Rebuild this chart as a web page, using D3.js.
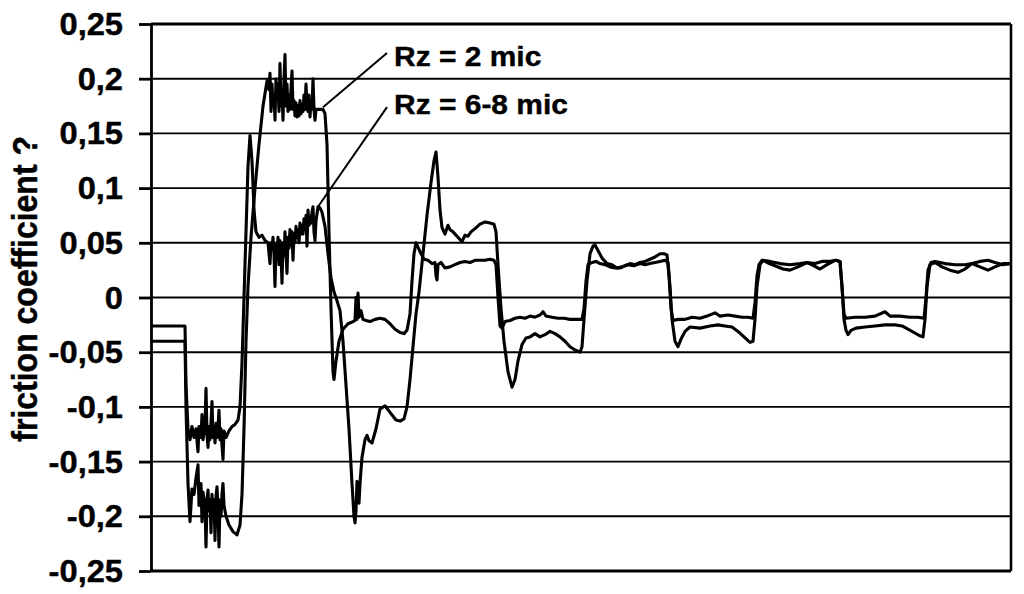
<!DOCTYPE html>
<html>
<head>
<meta charset="utf-8">
<script src="https://cdn.jsdelivr.net/npm/d3@7"></script>
<style>
  html, body { margin: 0; padding: 0; background: #fff; }
  svg { display: block; }
  text { font-family: "Liberation Sans", Arial, sans-serif; font-weight: bold; fill: #000; }
</style>
</head>
<body>
<div id="chart"></div>
<script>
// y ticks (friction coefficient)
var yTickValues = [-0.25, -0.2, -0.15, -0.1, -0.05, 0, 0.05, 0.1, 0.15, 0.2, 0.25];
var yTickLabels = ["-0,25", "-0,2", "-0,15", "-0,1", "-0,05", "0", "0,05", "0,1", "0,15", "0,2", "0,25"];
var yTitle = "friction coefficient ?";

// time runs 0..860 (arbitrary units, no labels on the x axis)
var timeRange = [0, 860];

// Rz = 2 mic : [time, friction]
var rz2 = [
  [0,-0.040],[34,-0.040],[35,-0.100],[37,-0.170],[39,-0.205],[41,-0.175],[43,-0.180],[45,-0.165],[47,-0.153],[48,-0.190],
  [50,-0.170],[51,-0.205],[52,-0.178],[54,-0.190],[55,-0.228],[56,-0.185],[57,-0.176],[58,-0.195],[59,-0.185],[60,-0.215],
  [61,-0.180],[62,-0.200],[63,-0.185],[64,-0.222],[65,-0.182],[66,-0.173],[67,-0.195],[68,-0.228],[69,-0.185],[70,-0.200],
  [71,-0.180],[72,-0.170],[73,-0.190],[75,-0.200],[78,-0.208],[82,-0.214],[86,-0.217],[89,-0.208],[91,-0.180],[93,-0.120],
  [95,-0.040],[97,0.010],[100,0.055],[104,0.100],[108,0.140],[112,0.175],[116,0.198],[118,0.190],[119,0.205],[120,0.170],
  [121,0.195],[122,0.175],[123,0.185],[124,0.162],[125,0.200],[126,0.180],[127,0.195],[128,0.170],[129,0.214],[130,0.175],
  [131,0.190],[132,0.162],[133,0.200],[134,0.222],[135,0.175],[136,0.195],[137,0.170],[138,0.185],[139,0.172],[140,0.190],
  [141,0.207],[142,0.172],[143,0.180],[144,0.166],[145,0.178],[146,0.165],[147,0.175],[148,0.166],[149,0.180],[150,0.168],
  [151,0.176],[152,0.170],[153,0.185],[154,0.172],[155,0.195],[156,0.175],[157,0.170],[158,0.185],[159,0.165],[160,0.180],
  [161,0.172],[162,0.200],[163,0.172],[164,0.162],[165,0.172],[168,0.172],[172,0.172],[174,0.168],[176,0.140],[178,0.060],
  [180,-0.010],[182,-0.068],[183,-0.075],[185,-0.058],[188,-0.040],[192,-0.029],[197,-0.024],[202,-0.022],[204,-0.021],[205,0.000],
  [206,-0.020],[207,0.004],[208,-0.018],[210,-0.012],[212,-0.020],[215,-0.021],[219,-0.022],[224,-0.020],[229,-0.019],[234,-0.020],
  [239,-0.024],[244,-0.029],[249,-0.032],[253,-0.033],[256,-0.030],[259,-0.015],[261,0.015],[263,0.040],[265,0.050],[267,0.046],
  [270,0.040],[273,0.035],[277,0.034],[281,0.031],[284,0.032],[285,0.020],[286,0.016],[287,0.030],[290,0.032],[294,0.027],
  [299,0.028],[304,0.030],[309,0.032],[314,0.033],[319,0.032],[324,0.034],[329,0.034],[334,0.034],[339,0.035],[343,0.034],
  [345,0.030],[347,0.000],[349,-0.026],[351,-0.028],[354,-0.022],[359,-0.021],[364,-0.019],[369,-0.018],[374,-0.019],[379,-0.017],
  [384,-0.018],[389,-0.016],[392,-0.013],[395,-0.017],[401,-0.018],[407,-0.019],[413,-0.019],[419,-0.020],[425,-0.020],[431,-0.020],
  [433,-0.010],[435,0.015],[437,0.030],[441,0.032],[445,0.033],[449,0.031],[454,0.030],[459,0.028],[464,0.027],[469,0.027],
  [474,0.029],[479,0.031],[484,0.030],[489,0.032],[494,0.033],[499,0.035],[504,0.037],[509,0.040],[513,0.040],[516,0.039],
  [518,0.020],[520,-0.010],[522,-0.021],[527,-0.020],[534,-0.020],[541,-0.018],[549,-0.019],[556,-0.017],[564,-0.014],[569,-0.017],
  [577,-0.016],[584,-0.017],[591,-0.018],[597,-0.018],[602,-0.019],[604,-0.005],[606,0.020],[608,0.030],[611,0.034],[619,0.033],
  [629,0.031],[639,0.030],[649,0.031],[656,0.032],[664,0.031],[671,0.033],[679,0.033],[685,0.034],[689,0.033],[691,0.010],
  [693,-0.015],[695,-0.019],[704,-0.018],[714,-0.018],[724,-0.017],[734,-0.013],[739,-0.017],[749,-0.017],[759,-0.018],[767,-0.018],
  [773,-0.019],[775,0.000],[777,0.025],[780,0.032],[784,0.033],[794,0.031],[804,0.030],[814,0.030],[821,0.031],[829,0.033],
  [837,0.034],[844,0.032],[852,0.030],[860,0.031]
];

// Rz = 6-8 mic : [time, friction]
var rz68 = [
  [0,-0.026],[34,-0.026],[35,-0.080],[37,-0.120],[39,-0.130],[41,-0.118],[43,-0.128],[45,-0.120],[47,-0.141],[48,-0.118],
  [50,-0.128],[51,-0.107],[52,-0.130],[54,-0.118],[55,-0.083],[56,-0.125],[57,-0.137],[58,-0.118],[59,-0.130],[60,-0.115],
  [61,-0.095],[62,-0.128],[63,-0.120],[64,-0.133],[65,-0.115],[66,-0.128],[67,-0.118],[68,-0.103],[69,-0.130],[70,-0.120],
  [71,-0.135],[72,-0.148],[73,-0.122],[75,-0.128],[78,-0.122],[81,-0.118],[84,-0.116],[87,-0.112],[89,-0.100],[91,-0.060],
  [93,0.000],[95,0.060],[97,0.120],[99,0.148],[101,0.125],[103,0.080],[105,0.060],[108,0.055],[111,0.057],[114,0.052],
  [117,0.050],[119,0.031],[120,0.050],[121,0.045],[122,0.055],[123,0.040],[124,0.010],[125,0.048],[126,0.035],[127,0.055],
  [128,0.030],[129,0.052],[130,0.040],[131,0.013],[132,0.050],[133,0.038],[134,0.060],[135,0.040],[136,0.022],[137,0.055],
  [138,0.045],[139,0.062],[140,0.048],[141,0.060],[142,0.034],[143,0.058],[144,0.050],[145,0.065],[146,0.055],[147,0.062],
  [148,0.050],[149,0.068],[150,0.058],[151,0.066],[152,0.058],[153,0.072],[154,0.062],[155,0.075],[156,0.047],[157,0.080],
  [158,0.066],[159,0.074],[160,0.068],[161,0.078],[162,0.083],[163,0.060],[164,0.052],[165,0.070],[167,0.083],[169,0.082],
  [171,0.078],[174,0.065],[177,0.040],[180,0.018],[183,0.005],[186,-0.003],[189,-0.012],[192,-0.040],[195,-0.080],[198,-0.120],
  [201,-0.170],[203,-0.200],[204,-0.206],[205,-0.195],[206,-0.168],[207,-0.180],[208,-0.188],[209,-0.170],[211,-0.146],[214,-0.130],
  [216,-0.126],[218,-0.131],[221,-0.133],[225,-0.120],[229,-0.102],[234,-0.099],[239,-0.105],[245,-0.112],[249,-0.113],[253,-0.111],
  [256,-0.100],[259,-0.075],[262,-0.045],[265,-0.015],[268,0.005],[272,0.040],[276,0.075],[280,0.105],[283,0.125],[285,0.133],
  [287,0.110],[289,0.080],[291,0.064],[294,0.058],[297,0.066],[299,0.062],[302,0.060],[305,0.057],[308,0.054],[311,0.051],
  [314,0.057],[317,0.056],[320,0.060],[324,0.063],[329,0.067],[334,0.069],[339,0.068],[343,0.067],[345,0.060],[347,0.030],
  [350,-0.010],[353,-0.040],[357,-0.068],[361,-0.082],[364,-0.075],[367,-0.058],[371,-0.043],[375,-0.037],[379,-0.036],[384,-0.033],
  [389,-0.036],[394,-0.034],[399,-0.031],[404,-0.033],[409,-0.036],[414,-0.040],[419,-0.045],[424,-0.048],[429,-0.050],[431,-0.045],
  [433,-0.020],[436,0.015],[439,0.040],[442,0.047],[444,0.048],[447,0.043],[451,0.036],[456,0.031],[461,0.030],[466,0.027],
  [471,0.028],[477,0.030],[483,0.029],[489,0.031],[494,0.030],[499,0.031],[504,0.032],[509,0.033],[514,0.034],[517,0.032],
  [519,0.010],[521,-0.020],[524,-0.040],[527,-0.045],[530,-0.038],[534,-0.031],[539,-0.027],[549,-0.028],[559,-0.026],[567,-0.025],
  [574,-0.026],[581,-0.027],[587,-0.031],[593,-0.036],[599,-0.041],[602,-0.040],[604,-0.020],[606,0.010],[609,0.030],[612,0.034],
  [616,0.032],[624,0.029],[632,0.026],[639,0.025],[647,0.028],[656,0.032],[663,0.029],[669,0.026],[676,0.030],[684,0.034],
  [689,0.033],[691,0.010],[693,-0.020],[695,-0.030],[697,-0.034],[700,-0.030],[705,-0.028],[714,-0.027],[724,-0.026],[734,-0.025],
  [744,-0.025],[751,-0.026],[757,-0.029],[763,-0.032],[769,-0.035],[772,-0.036],[774,-0.020],[776,0.010],[779,0.030],[784,0.032],
  [791,0.028],[799,0.025],[807,0.023],[814,0.026],[821,0.031],[829,0.028],[837,0.025],[844,0.028],[852,0.031],[860,0.031]
];

// labels with their leader lines: text anchor and line [from, to] in data units
var seriesNames = ["Rz = 2 mic", "Rz = 6-8 mic"];
var labelAnchors = [[243, 0.212], [243, 0.168]];
var leaderLines = [
  [[236, 0.2235], [172, 0.174]],
  [[236, 0.174], [167, 0.083]]
];

var width = 1024, height = 594;
var margin = {top: 24, right: 13, bottom: 23, left: 151};
var sx = 1.07; // glyphs in the picture are a bit wider than tall

var svg = d3.select("#chart").append("svg")
  .attr("width", width)
  .attr("height", height);

var x = d3.scaleLinear().domain(timeRange).range([margin.left, width - margin.right]);
var y = d3.scaleLinear().domain([-0.25, 0.25]).range([height - margin.bottom, margin.top]);

// horizontal grid
svg.append("g")
  .selectAll("line")
  .data(yTickValues)
  .enter().append("line")
  .attr("x1", x(timeRange[0]))
  .attr("x2", x(timeRange[1]))
  .attr("y1", function(d) { return y(d); })
  .attr("y2", function(d) { return y(d); })
  .attr("stroke", "#000")
  .attr("stroke-width", function(d) { return (d == 0.25 || d == -0.25) ? 2.8 : 1.9; });

// right border
svg.append("line")
  .attr("x1", x(timeRange[1])).attr("x2", x(timeRange[1]))
  .attr("y1", y(0.25)).attr("y2", y(-0.25))
  .attr("stroke", "#000").attr("stroke-width", 2.6);

// left axis with outer ticks
var yAxis = svg.append("g")
  .attr("transform", "translate(" + margin.left + ",0)")
  .call(d3.axisLeft(y).tickValues(yTickValues).tickSize(12).tickSizeOuter(0).tickFormat(""));
yAxis.selectAll("path, line").attr("stroke", "#000").attr("stroke-width", 2.8);

// tick labels
svg.append("g")
  .selectAll("text")
  .data(yTickValues)
  .enter().append("text")
  .attr("transform", function(d) { return "translate(123," + (y(d) + 11) + ") scale(" + sx + ",1)"; })
  .attr("text-anchor", "end")
  .attr("font-size", 30.5)
  .attr("stroke", "#000")
  .attr("stroke-width", 0.4)
  .text(function(d, i) { return yTickLabels[i]; });

// y title
svg.append("text")
  .attr("transform", "translate(37," + (y(0.0079)) + ") rotate(-90) scale(1," + sx + ")")
  .attr("text-anchor", "middle")
  .attr("font-size", 32)
  .attr("stroke", "#000")
  .attr("stroke-width", 0.4)
  .text(yTitle);

// series
var line = d3.line()
  .x(function(d) { return x(d[0]); })
  .y(function(d) { return y(d[1]); });

svg.append("g")
  .selectAll("path")
  .data([rz68, rz2])
  .enter().append("path")
  .attr("d", line)
  .attr("fill", "none")
  .attr("stroke", "#000")
  .attr("stroke-width", 3.1)
  .attr("stroke-linejoin", "round");

// leader lines
svg.append("g")
  .selectAll("line")
  .data(leaderLines)
  .enter().append("line")
  .attr("x1", function(d) { return x(d[0][0]); })
  .attr("y1", function(d) { return y(d[0][1]); })
  .attr("x2", function(d) { return x(d[1][0]); })
  .attr("y2", function(d) { return y(d[1][1]); })
  .attr("stroke", "#000")
  .attr("stroke-width", 2);

svg.append("g")
  .selectAll("text")
  .data(seriesNames)
  .enter().append("text")
  .attr("transform", function(d, i) {
    return "translate(" + x(labelAnchors[i][0]) + "," + y(labelAnchors[i][1]) + ") scale(" + sx + ",1)";
  })
  .attr("font-size", 28)
  .attr("stroke", "#000")
  .attr("stroke-width", 0.4)
  .text(function(d) { return d; });
</script>
</body>
</html>
